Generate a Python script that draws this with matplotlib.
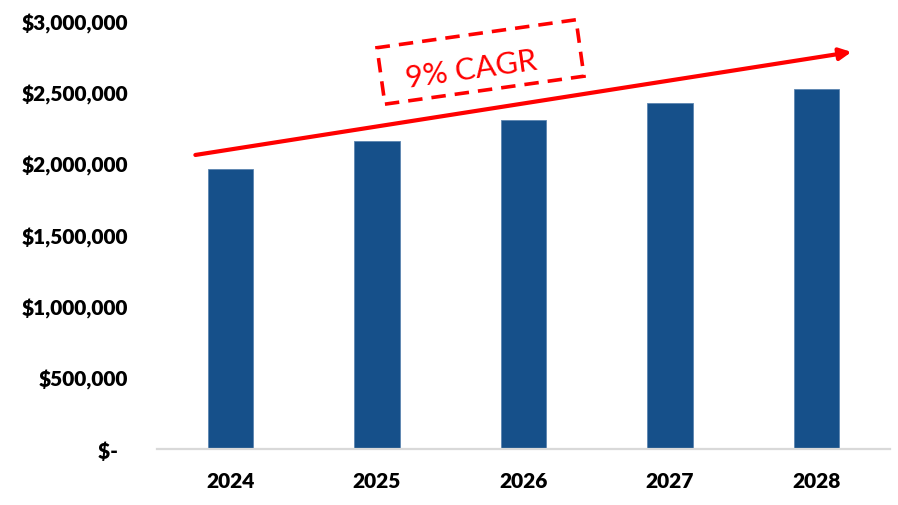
import matplotlib
matplotlib.use("Agg")
import matplotlib.pyplot as plt
from matplotlib.patches import Rectangle
from matplotlib.transforms import Affine2D, ScaledTranslation
from matplotlib.ticker import FuncFormatter

# Revenue forecast by year
years = ["2024", "2025", "2026", "2027", "2028"]
revenue = [1963000, 2157000, 2308000, 2423000, 2521000]
y_ticks = [0, 500000, 1000000, 1500000, 2000000, 2500000, 3000000]
cagr_label = "9% CAGR"

BAR_COLOR = "#16508A"
RED = "#FF0000"

plt.rcParams["font.family"] = ["Lato", "DejaVu Sans"]

fig = plt.figure(figsize=(8.98, 5.06), dpi=100)
ax = fig.add_axes([0.1748, 0.1107, 0.8162, 0.8458])

x = list(range(len(years)))
ax.bar(x, revenue, width=0.31, color=BAR_COLOR, edgecolor="#5C85B0", linewidth=0.6, zorder=2)

ax.set_xlim(-0.5, len(years) - 0.5)
ax.set_ylim(0, 3000000)
ax.set_xticks(x)
ax.set_xticklabels(years)
ax.set_yticks(y_ticks)


def money(v, pos):
    if v == 0:
        return "$-  "
    return f"${v:,.0f}"


ax.yaxis.set_major_formatter(FuncFormatter(money))

for side in ("top", "right", "left"):
    ax.spines[side].set_visible(False)
ax.spines["bottom"].set_color("#D9D9D9")
ax.spines["bottom"].set_linewidth(1.6)

ax.tick_params(axis="both", length=0, labelsize=15)
ax.tick_params(axis="y", pad=21)
ax.tick_params(axis="x", pad=16)
for lab in ax.get_xticklabels() + ax.get_yticklabels():
    lab.set_fontweight("heavy")

# Growth arrow across the bars
ax.annotate(
    "", xy=(4.238, 2783000), xytext=(-0.238, 2061000),
    arrowprops=dict(arrowstyle="-|>,head_length=0.7,head_width=0.35",
                    color=RED, lw=3, shrinkA=0, shrinkB=0),
    zorder=3,
)

# Dashed, tilted callout box with the growth rate
angle = 8.0
box_w, box_h = 2.01, 0.57  # inches
box_tr = (Affine2D().rotate_deg(angle) + fig.dpi_scale_trans
          + ScaledTranslation(1.707, 2713000, ax.transData))
ax.add_patch(Rectangle((-box_w / 2, -box_h / 2), box_w, box_h, transform=box_tr,
                       fill=False, edgecolor=RED, linewidth=2.6,
                       linestyle=(0, (4, 2.5)), clip_on=False, zorder=3))
ax.text(1.645, 2665000, cagr_label, color=RED, fontsize=22, rotation=angle,
        rotation_mode="anchor", ha="center", va="center", zorder=4)

fig.savefig("out.png", dpi=100)
